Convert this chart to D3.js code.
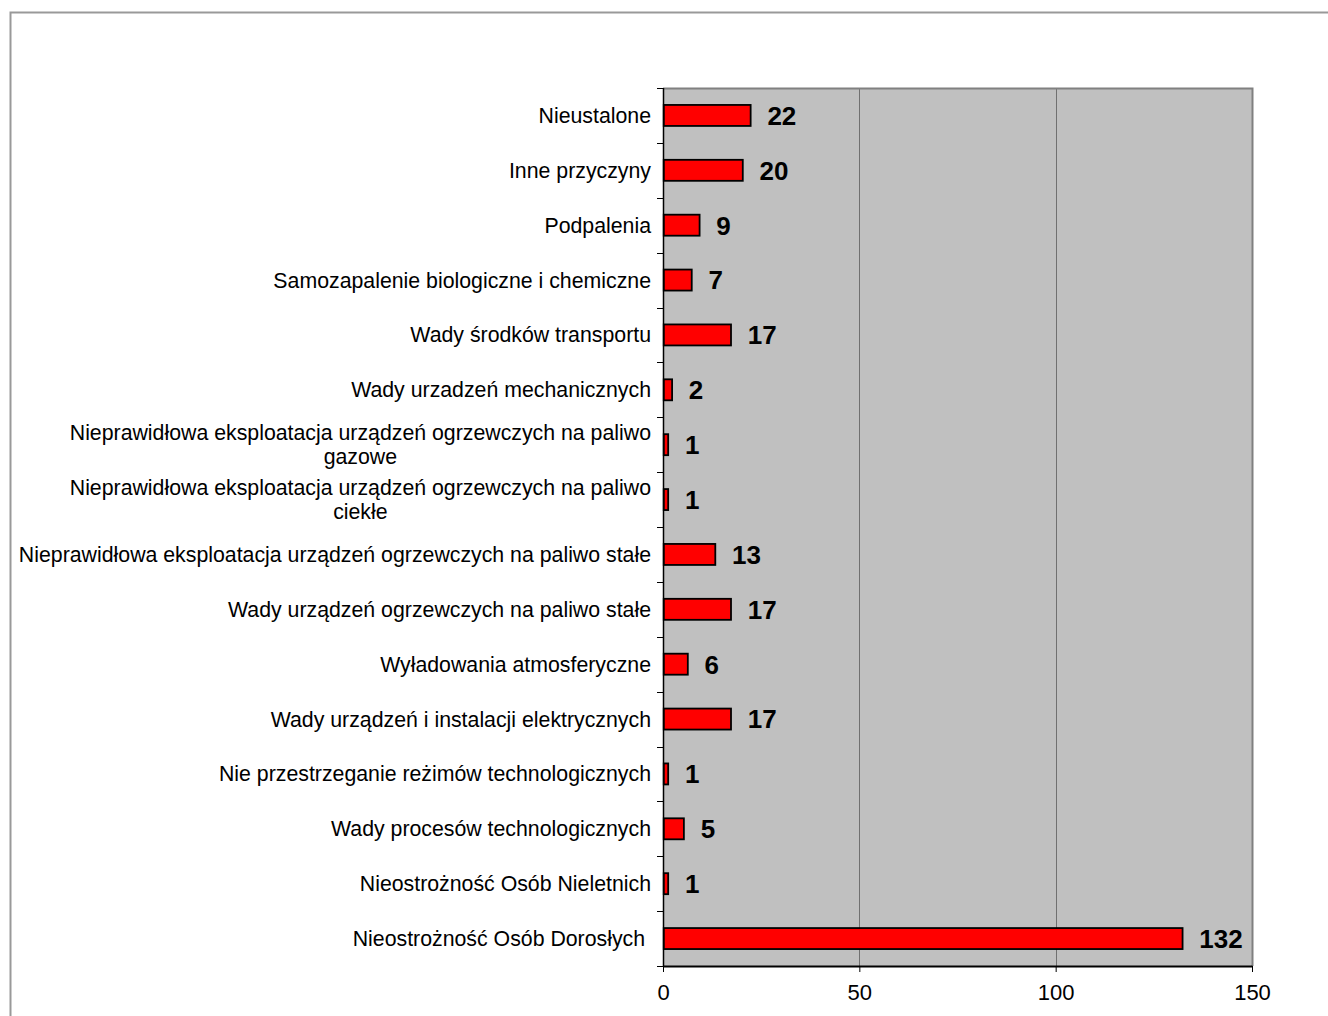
<!DOCTYPE html>
<html>
<head>
<meta charset="utf-8">
<script src="https://cdn.jsdelivr.net/npm/d3@7"></script>
<style>
  html, body { margin: 0; padding: 0; background: #fff; }
  svg { display: block; }
  text { font-family: "Liberation Sans", Arial, sans-serif; }
</style>
</head>
<body>
<svg id="chart" width="1328" height="1016"></svg>
<script>
const categories = [
  "Nieustalone",
  "Inne przyczyny",
  "Podpalenia",
  "Samozapalenie biologiczne i chemiczne",
  "Wady środków transportu",
  "Wady urzadzeń mechanicznych",
  "Nieprawidłowa eksploatacja urządzeń ogrzewczych na paliwo gazowe",
  "Nieprawidłowa eksploatacja urządzeń ogrzewczych na paliwo ciekłe",
  "Nieprawidłowa eksploatacja urządzeń ogrzewczych na paliwo stałe",
  "Wady urządzeń ogrzewczych na paliwo stałe",
  "Wyładowania atmosferyczne",
  "Wady urządzeń i instalacji elektrycznych",
  "Nie przestrzeganie reżimów technologicznych",
  "Wady procesów technologicznych",
  "Nieostrożność Osób Nieletnich",
  "Nieostrożność Osób Dorosłych "
];
const values = [22, 20, 9, 7, 17, 2, 1, 1, 13, 17, 6, 17, 1, 5, 1, 132];
const xTicks = [0, 50, 100, 150];

const svg = d3.select("#chart");
const LABEL_FS = 21.3;

// outer chart frame
svg.append("rect")
  .attr("x", 10.5).attr("y", 12.5)
  .attr("width", 1340).attr("height", 1040)
  .attr("fill", "#fff").attr("stroke", "#999").attr("stroke-width", 2);

const plot = { left: 663, right: 1252, top: 88, bottom: 966 };

const x = d3.scaleLinear().domain([0, 150]).range([plot.left, plot.right]);
const yb = d3.scaleBand().domain(categories).range([plot.top, plot.bottom]);

// plot area background
svg.append("rect")
  .attr("x", plot.left).attr("y", plot.top)
  .attr("width", plot.right - plot.left).attr("height", plot.bottom - plot.top)
  .attr("fill", "#c0c0c0");

// gridlines
svg.append("g").selectAll("line")
  .data(xTicks.filter(d => d > 0 && d < 150))
  .join("line")
  .attr("x1", d => Math.round(x(d)) + 0.5).attr("x2", d => Math.round(x(d)) + 0.5)
  .attr("y1", plot.top).attr("y2", plot.bottom)
  .attr("stroke", "#707070").attr("stroke-width", 1);

// plot border top & right
svg.append("path")
  .attr("d", `M${plot.left},${plot.top + 0.5}H${plot.right + 0.5}V${plot.bottom}`)
  .attr("fill", "none").attr("stroke", "#808080").attr("stroke-width", 2);

// bars
svg.append("g").selectAll("rect")
  .data(categories)
  .join("rect")
  .attr("x", x(0) + 0.75)
  .attr("y", d => yb(d) + yb.bandwidth() / 2 - 10.5)
  .attr("width", (d, i) => x(values[i]) - x(0) + 0.5)
  .attr("height", 21)
  .attr("fill", "#ff0000")
  .attr("stroke", "#000").attr("stroke-width", 1.8);

// value labels
svg.append("g").selectAll("text")
  .data(categories)
  .join("text")
  .attr("x", (d, i) => x(values[i]) + 18)
  .attr("y", d => yb(d) + yb.bandwidth() / 2)
  .attr("dy", "0.36em")
  .attr("font-size", 26)
  .attr("font-weight", "bold")
  .attr("fill", "#000")
  .text((d, i) => values[i]);

// y axis line
svg.append("line")
  .attr("x1", plot.left + 0.5).attr("x2", plot.left + 0.5)
  .attr("y1", plot.top).attr("y2", plot.bottom + 1)
  .attr("stroke", "#000").attr("stroke-width", 1.5);
// category boundary ticks
const bounds = categories.map(c => yb(c)).concat([plot.bottom]);
svg.append("g").selectAll("line")
  .data(bounds)
  .join("line")
  .attr("x1", plot.left - 6).attr("x2", plot.left)
  .attr("y1", d => Math.round(d) + 0.5).attr("y2", d => Math.round(d) + 0.5)
  .attr("stroke", "#000").attr("stroke-width", 1);

// category labels (wrapped, centered block, right aligned to axis)
const maxW = 637;
const labels = svg.append("g");
categories.forEach(c => {
  const t = labels.append("text")
    .attr("font-size", LABEL_FS)
    .attr("fill", "#000")
    .attr("text-anchor", "middle")
    .style("white-space", "pre");
  const words = c.split(" ");
  let lines = [], cur = "";
  const probe = svg.append("text").attr("font-size", LABEL_FS).style("white-space", "pre");
  words.forEach(w => {
    const test = cur ? cur + " " + w : w;
    probe.text(test);
    if (cur && probe.node().getComputedTextLength() > maxW) { lines.push(cur); cur = w; }
    else cur = test;
  });
  lines.push(cur);
  let widest = 0;
  lines.forEach(l => { probe.text(l); widest = Math.max(widest, probe.node().getComputedTextLength()); });
  probe.remove();
  const lh = 24;
  const cy = yb(c) + yb.bandwidth() / 2;
  const cx = 651 - widest / 2;
  lines.forEach((l, i) => {
    t.append("tspan")
      .attr("x", cx)
      .attr("y", cy + (i - (lines.length - 1) / 2) * lh)
      .attr("dy", "0.35em")
      .text(l);
  });
});

// x axis
const xAxis = d3.axisBottom(x).tickValues(xTicks).tickSize(6).tickSizeOuter(0).tickPadding(12);
const gx = svg.append("g").attr("transform", `translate(0,${plot.bottom})`).call(xAxis);
gx.select(".domain").attr("stroke", "#000").attr("stroke-width", 2);
gx.selectAll(".tick line").attr("stroke", "#000");
gx.selectAll(".tick text").attr("font-size", 22).attr("fill", "#000")
  .attr("font-family", "'Liberation Sans', Arial, sans-serif");
</script>
</body>
</html>
